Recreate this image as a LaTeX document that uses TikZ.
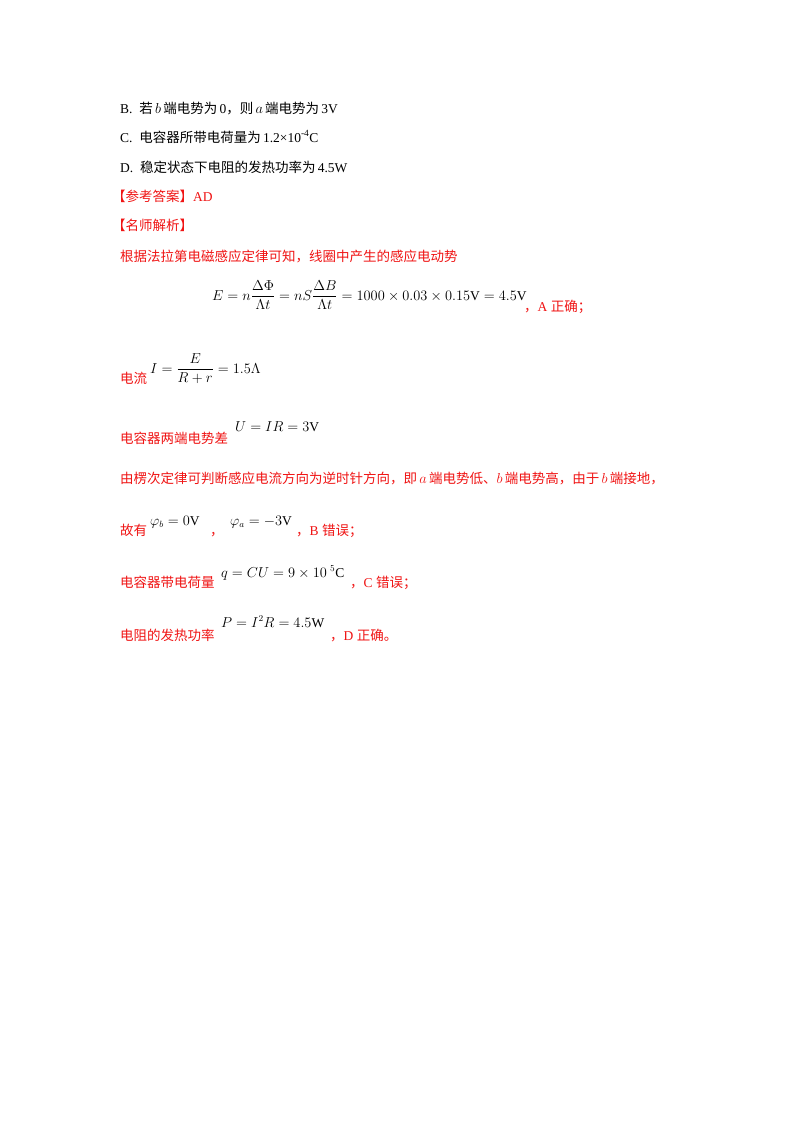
\documentclass[tikz,border=0pt]{standalone}
\usepackage{amsmath}
\usepackage{fontspec}
\setmainfont{Liberation Serif}
\newfontfamily\cjk{Noto Sans CJK SC}
\definecolor{ansred}{RGB}{240,20,20}
\begin{document}
\begin{tikzpicture}[x=1pt,y=-1pt,
 t/.style={anchor=base west,inner sep=0pt,font=\fontsize{13.5}{16}\selectfont},
 r/.style={t,text=ansred}]
\useasboundingbox[fill=white] (0,0) rectangle (800,1132);
\node[t] (b) at (120,113) {B.\ \ {\cjk 若}\,$b$\,{\cjk 端电势为}\,0{\cjk ，则}\,$a$\,{\cjk 端电势为}\,3V};
\node[t] (c) at (120,142) {C.\ \ {\cjk 电容器所带电荷量为}\,1.2×10\textsuperscript{-4}C};
\node[t] (d) at (120,172) {D.\ \ {\cjk 稳定状态下电阻的发热功率为}\,4.5W};
\node[r] (ans) at (112,201) {\cjk 【参考答案】\normalfont AD};
\node[r] (ms) at (112,230) {\cjk 【名师解析】};
\node[r] (l1) at (120,261) {\cjk 根据法拉第电磁感应定律可知，线圈中产生的感应电动势};
\node[t] (f1) at (212,300) {$E=n\dfrac{\Delta\Phi}{\Lambda t}=nS\dfrac{\Delta B}{\Lambda t}=1000\times0.03\times0.15\mathrm{V}=4.5\mathrm{V}$};
\node[r,anchor=base west] (f1t) at (524,311) {{\cjk ，}A {\cjk 正确；}};
\node[r] (l2) at (120,383) {\cjk 电流};
\node[t] (f2) at (150,373) {$I=\dfrac{E}{R+r}=1.5\Lambda$};
\node[r] (l3) at (120,443) {\cjk 电容器两端电势差};
\node[t] (f3) at (235,431) {$U=IR=3\mathrm{V}$};
\node[r] (l4) at (120,483) {\cjk 由楞次定律可判断感应电流方向为逆时针方向，即\normalfont\,$a$\,\cjk 端电势低、\normalfont$b$\,\cjk 端电势高，由于\normalfont\,$b$\,\cjk 端接地，};
\node[r] (l5) at (120,535) {\cjk 故有};
\node[t] (f5) at (150,525) {$\varphi_b=0\mathrm{V}$};
\node[r] (f5a) at (210,535) {\cjk ，};
\node[t] (f5b) at (230,525) {$\varphi_a=-3\mathrm{V}$};
\node[r] (f5c) at (296,535) {{\cjk ，}B {\cjk 错误；}};
\node[r] (l6) at (120,587) {\cjk 电容器带电荷量};
\node[t] (f6) at (221,577) {$q=CU=9\times10^{\ 5}\mathrm{C}$};
\node[r] (f6c) at (350,587) {{\cjk ，}C {\cjk 错误；}};
\node[r] (l7) at (120,640) {\cjk 电阻的发热功率};
\node[t] (f7) at (221,627) {$P=I^2R=4.5\mathrm{W}$};
\node[r] (f7c) at (330,640) {{\cjk ，}D {\cjk 正确。}};
\end{tikzpicture}
\end{document}
